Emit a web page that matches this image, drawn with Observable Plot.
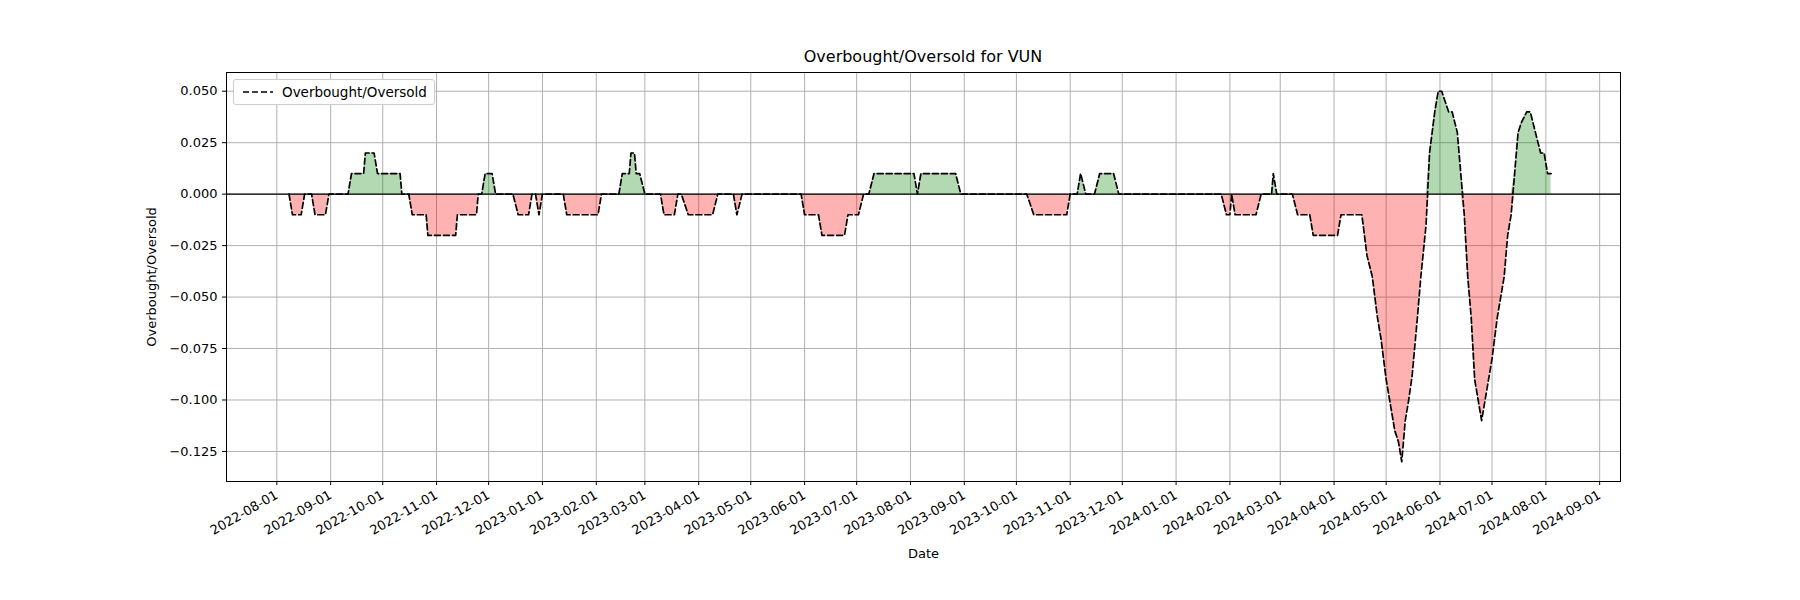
<!DOCTYPE html>
<html><head><meta charset="utf-8">
<script src="https://cdn.jsdelivr.net/npm/d3@7"></script>
<script src="https://cdn.jsdelivr.net/npm/@observablehq/plot@0.6"></script>
<style>
body{margin:0;background:#fff;font-family:"DejaVu Sans",sans-serif;}
#wrap{position:relative;width:1800px;}
#title{height:72px;position:relative;}
#title span{position:absolute;left:0;width:1846px;text-align:center;top:47px;font-size:16px;}
#legend{position:absolute;left:233px;top:79px;border:1px solid #ccc;border-radius:3px;background:#fff;padding:4px 7px;font-size:13.5px;display:flex;align-items:center;}
</style></head><body>
<div id="wrap"><div id="title"><span>Overbought/Oversold for VUN</span></div>
<div id="chart"></div>
<div id="legend"><svg width="34" height="10"><line x1="2" x2="32" y1="5" y2="5" stroke="#000" stroke-width="1.7" stroke-dasharray="6,3"/></svg><span style="margin-left:7px">Overbought/Oversold</span></div>
</div>
<script>
const dates = ["2022-08-08","2022-08-10","2022-08-15","2022-08-17","2022-08-21","2022-08-23","2022-08-29","2022-08-31","2022-09-11","2022-09-13","2022-09-20","2022-09-21","2022-09-26","2022-09-28","2022-10-11","2022-10-12","2022-10-16","2022-10-18","2022-10-26","2022-10-27","2022-10-28","2022-11-12","2022-11-13","2022-11-24","2022-11-25","2022-11-27","2022-11-29","2022-12-03","2022-12-05","2022-12-15","2022-12-18","2022-12-24","2022-12-26","2022-12-28","2022-12-30","2023-01-01","2023-01-13","2023-01-15","2023-02-02","2023-02-04","2023-02-14","2023-02-16","2023-02-20","2023-02-21","2023-02-23","2023-02-24","2023-02-26","2023-03-01","2023-03-10","2023-03-12","2023-03-18","2023-03-20","2023-03-22","2023-03-26","2023-04-09","2023-04-12","2023-04-21","2023-04-23","2023-04-26","2023-05-30","2023-06-01","2023-06-09","2023-06-11","2023-06-24","2023-06-26","2023-07-02","2023-07-05","2023-07-08","2023-07-11","2023-08-03","2023-08-05","2023-08-07","2023-08-27","2023-08-30","2023-10-07","2023-10-11","2023-10-30","2023-11-01","2023-11-05","2023-11-07","2023-11-10","2023-11-15","2023-11-18","2023-11-26","2023-11-29","2024-01-27","2024-01-30","2024-02-01","2024-02-02","2024-02-04","2024-02-16","2024-02-19","2024-02-25","2024-02-26","2024-02-28","2024-03-08","2024-03-11","2024-03-18","2024-03-20","2024-04-03","2024-04-05","2024-04-17","2024-04-20","2024-04-23","2024-04-26","2024-04-28","2024-05-01","2024-05-03","2024-05-06","2024-05-08","2024-05-10","2024-05-12","2024-05-14","2024-05-16","2024-05-19","2024-05-21","2024-05-24","2024-05-26","2024-05-29","2024-05-31","2024-06-02","2024-06-06","2024-06-08","2024-06-11","2024-06-13","2024-06-15","2024-06-17","2024-06-19","2024-06-21","2024-06-23","2024-06-25","2024-06-27","2024-06-29","2024-07-01","2024-07-04","2024-07-06","2024-07-08","2024-07-10","2024-07-12","2024-07-14","2024-07-16","2024-07-18","2024-07-21","2024-07-23","2024-07-26","2024-07-29","2024-07-31","2024-08-02","2024-08-04","2024-08-06"];
const values = [0,-0.01,-0.01,0,0,-0.01,-0.01,0,0,0.01,0.01,0.02,0.02,0.01,0.01,0,0,-0.01,-0.01,-0.02,-0.02,-0.02,-0.01,-0.01,0,0,0.01,0.01,0,0,-0.01,-0.01,0,0,-0.01,0,0,-0.01,-0.01,0,0,0.01,0.01,0.02,0.02,0.01,0.01,0,0,-0.01,-0.01,0,0,-0.01,-0.01,0,0,-0.01,0,0,-0.01,-0.01,-0.02,-0.02,-0.01,-0.01,0,0,0.01,0.01,0,0.01,0.01,0,0,-0.01,-0.01,0,0,0.01,0,0,0.01,0.01,0,0,-0.01,-0.01,0,-0.01,-0.01,0,0,0.01,0,0,-0.01,-0.01,-0.02,-0.02,-0.01,-0.01,-0.03,-0.04,-0.06,-0.07,-0.09,-0.1,-0.115,-0.12,-0.13,-0.11,-0.1,-0.088,-0.06,-0.04,-0.015,0.02,0.04,0.05,0.05,0.04,0.04,0.03,0.01,-0.01,-0.04,-0.06,-0.09,-0.1,-0.11,-0.1,-0.09,-0.08,-0.06,-0.05,-0.04,-0.02,-0.01,0.01,0.03,0.035,0.04,0.04,0.03,0.02,0.02,0.01,0.01];
const yTicks = [0.05,0.025,0,-0.025,-0.05,-0.075,-0.1,-0.125];
const xTicks = d3.timeMonth.range(new Date(2022,7,1), new Date(2024,8,2));
const data = dates.map((d,i)=>({date:new Date(d+"T00:00"), v:values[i]}));
const fmt = d3.timeFormat("%Y-%m-%d");
const chart = Plot.plot({
  width:1800, height:528,
  marginTop:0, marginBottom:119, marginLeft:226, marginRight:180,
  style:{fontFamily:"DejaVu Sans", fontSize:"13px", color:"#000"},
  x:{type:"time", domain:[new Date("2022-07-03"), new Date("2024-09-13")], ticks:xTicks, tickFormat:fmt, tickRotate:-30, label:"Date", labelArrow:"none", labelAnchor:"center", labelOffset:76, tickSize:4},
  y:{domain:[-0.1396,0.0591], ticks:yTicks, tickFormat:d3.format(".3f"), label:"Overbought/Oversold", labelArrow:"none", labelAnchor:"center", labelOffset:80, tickSize:4},
  marks:[
    Plot.gridX(xTicks,{stroke:"#b0b0b0", strokeOpacity:1}),
    Plot.gridY(yTicks,{stroke:"#b0b0b0", strokeOpacity:1}),
    Plot.areaY(data,{x:"date", y1:0, y2:d=>Math.max(d.v,0), fill:"green", fillOpacity:0.3}),
    Plot.areaY(data,{x:"date", y1:0, y2:d=>Math.min(d.v,0), fill:"red", fillOpacity:0.3}),
    Plot.ruleY([0],{stroke:"#000", strokeWidth:1.3}),
    Plot.line(data,{x:"date", y:"v", stroke:"#000", strokeWidth:1.7, strokeDasharray:"6,3"}),
    Plot.frame({stroke:"#000"})
  ]
});
document.getElementById("chart").appendChild(chart);
</script></body></html>
